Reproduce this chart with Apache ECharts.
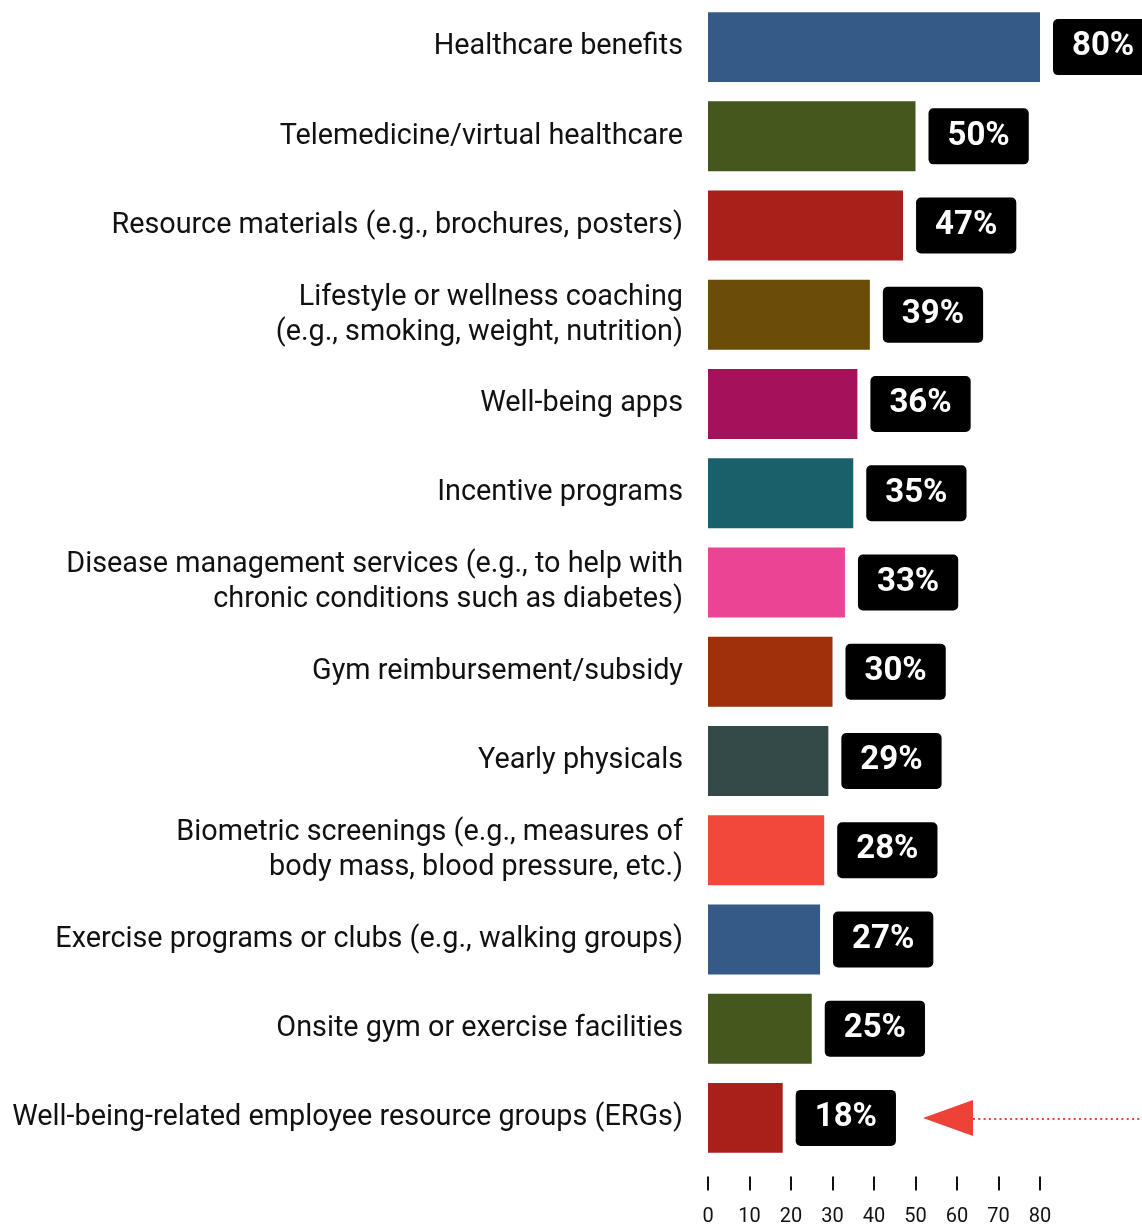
<!DOCTYPE html>
<html>
<head>
<meta charset="utf-8">
<script src="https://cdn.jsdelivr.net/npm/echarts@6/dist/echarts.min.js"></script>
<style>
  html, body { margin: 0; padding: 0; background: #fff; }
  #chart { width: 1142px; height: 1224px; }
</style>
</head>
<body>
<div id="chart"></div>
<script>
// Benefit categories, top to bottom
const categories = [
  'Healthcare benefits',
  'Telemedicine/virtual healthcare',
  'Resource materials (e.g., brochures, posters)',
  'Lifestyle or wellness coaching\n(e.g., smoking, weight, nutrition)',
  'Well-being apps',
  'Incentive programs',
  'Disease management services (e.g., to help with\nchronic conditions such as diabetes)',
  'Gym reimbursement/subsidy',
  'Yearly physicals',
  'Biometric screenings (e.g., measures of\nbody mass, blood pressure, etc.)',
  'Exercise programs or clubs (e.g., walking groups)',
  'Onsite gym or exercise facilities',
  'Well-being-related employee resource groups (ERGs)'
];

// Share of respondents (%)
const values = [80, 50, 47, 39, 36, 35, 33, 30, 29, 28, 27, 25, 18];

// Bar fill per category
const barColors = [
  '#365a88', '#44571c', '#a9201a', '#6b4c08', '#a4125c', '#19606a', '#ea4494',
  '#9e300b', '#344a48', '#f0483a', '#365a88', '#44571c', '#a9201a'
];

// x-axis ticks
const xTicks = [0, 10, 20, 30, 40, 50, 60, 70, 80];

// Category that the pointer arrow highlights
const highlighted = 'Well-being-related employee resource groups (ERGs)';

const chart = echarts.init(document.getElementById('chart'), null, { renderer: 'canvas' });

const option = {
  animation: false,
  backgroundColor: '#ffffff',
  grid: {
    left: 708, right: 102, top: 2.5, height: 1160,
    containLabel: false,
    outerBoundsMode: 'none'
  },
  xAxis: {
    type: 'value',
    min: xTicks[0],
    max: xTicks[xTicks.length - 1],
    interval: 10,
    offset: 14,
    splitLine: { show: false },
    axisLine: { show: false },
    axisTick: { show: true, length: 14, lineStyle: { color: '#111', width: 2 } },
    axisLabel: { margin: 30, fontFamily: 'Roboto', fontSize: 20, color: '#111' }
  },
  yAxis: {
    type: 'category',
    data: categories,
    inverse: true,
    axisLine: { show: false },
    axisTick: { show: false },
    axisLabel: {
      margin: 25,
      fontFamily: 'Roboto',
      fontSize: 28.8,
      lineHeight: 35,
      color: '#111',
      align: 'right',
      padding: [7, 0, 0, 0]
    }
  },
  series: [{
    type: 'bar',
    data: values.map((v, i) => ({ value: v, itemStyle: { color: barColors[i] } })),
    barCategoryGap: '21.6%',
    label: {
      show: true,
      position: 'right',
      distance: 13,
      formatter: p => p.value + '%',
      fontFamily: 'Roboto',
      fontWeight: 'bold',
      fontSize: 33,
      color: '#ffffff',
      backgroundColor: '#000000',
      borderRadius: 5,
      padding: [15, 19, 8, 19],
      lineHeight: 33
    }
  }]
};

chart.setOption(option);

// Pointer arrow next to the highlighted bar
const yPix = chart.convertToPixel({ yAxisIndex: 0 }, highlighted);
const tipX = 923, baseX = 973;
chart.setOption({
  graphic: [
    {
      type: 'polygon',
      shape: { points: [[tipX, yPix], [baseX, yPix - 18], [baseX, yPix + 18]] },
      style: { fill: '#ee4238' }
    },
    {
      type: 'line',
      shape: { x1: baseX, y1: yPix + 1, x2: 1142, y2: yPix + 1 },
      style: { stroke: '#ee4238', lineWidth: 2, lineDash: [2, 3.3] }
    }
  ]
});
</script>
</body>
</html>
